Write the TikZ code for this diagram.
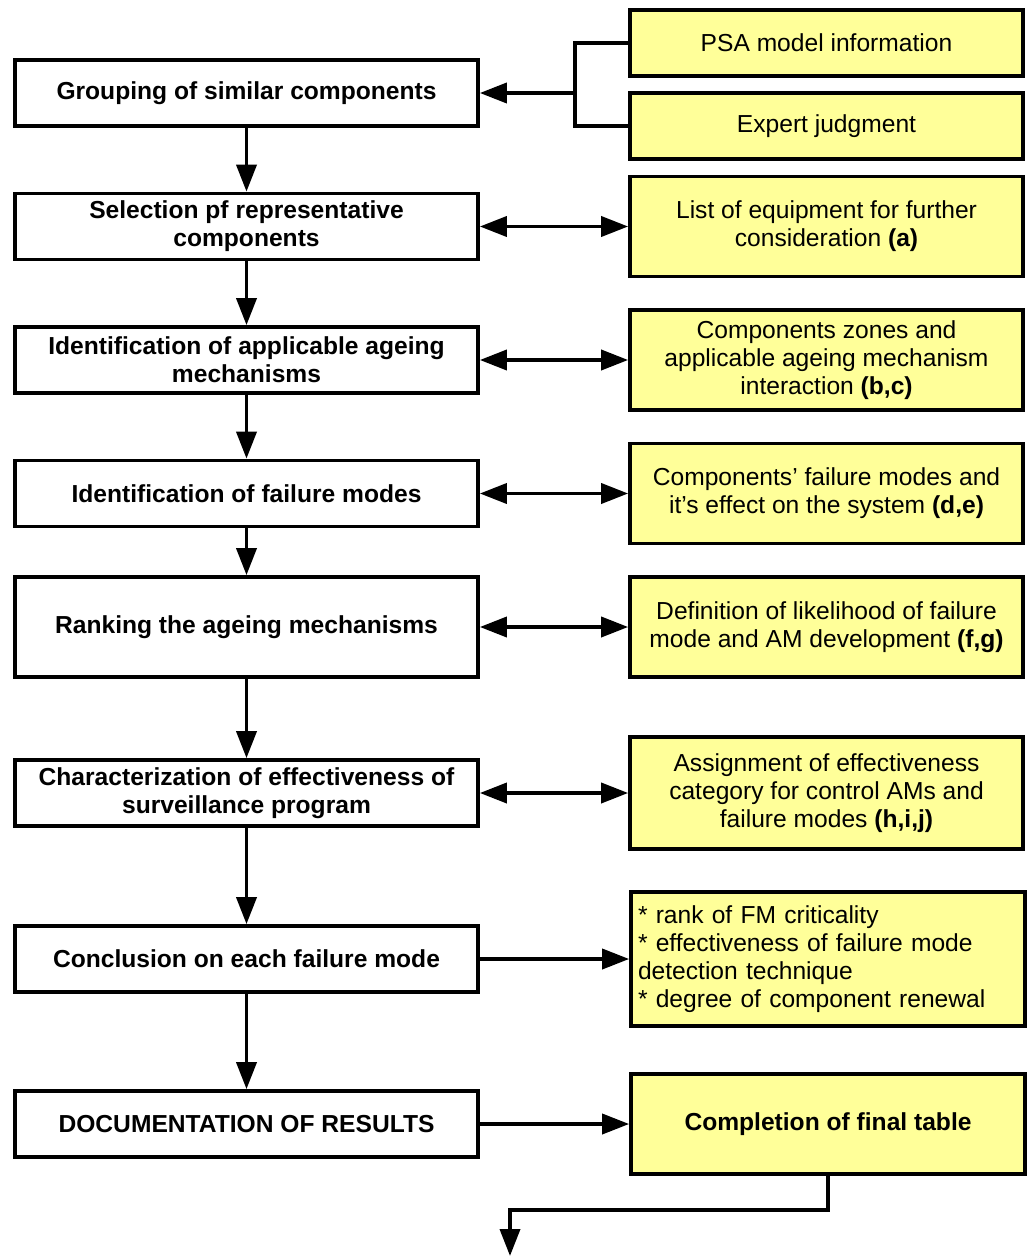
\documentclass[tikz,border=0pt]{standalone}
\usepackage{fontspec}
\setmainfont{Liberation Sans}
\usetikzlibrary{arrows.meta}
\definecolor{noteyellow}{RGB}{255,255,153}
\begin{document}
\begin{tikzpicture}[node distance=2.67cm, auto, >={Triangle[length=0.54cm,width=0.4cm]}, line width=2.1pt]
    \tikzstyle{stage} = [rectangle, draw=black, fill=white, minimum width=9.26cm, minimum height=1.32cm, text centered, align=center, font=\fontsize{14}{16}\selectfont\bfseries]
    \tikzstyle{note} = [rectangle, draw=black, fill=noteyellow, minimum width=7.86cm, minimum height=2cm, text centered, align=center, font=\fontsize{14}{16}\selectfont]
    \useasboundingbox (0,0) rectangle (20.68,-25.12);

    % Analysis steps
    \node [stage] at (4.93,-1.86) (grouping) {Grouping of similar components};
    \node [stage, below of=grouping] (selection) {Selection pf representative\\components};
    \node [stage, below of=selection] (mechanisms) {Identification of applicable ageing\\mechanisms};
    \node [stage, below of=mechanisms] (failmodes) {Identification of failure modes};
    \node [stage, below of=failmodes, minimum height=2cm] (ranking) {Ranking the ageing mechanisms};
    \node [stage, below of=ranking, yshift=-0.65cm] (surveillance) {Characterization of effectiveness of\\surveillance program};
    \node [stage, below of=surveillance, yshift=-0.65cm] (conclusion) {Conclusion on each failure mode};
    \node [stage, below of=conclusion, yshift=-0.63cm] (documentation) {DOCUMENTATION OF RESULTS};

    % Inputs and outcomes
    \node [note, right of=grouping, xshift=8.93cm, yshift=1.0cm, minimum height=1.32cm] (psa) {PSA model information};
    \node [note, right of=grouping, xshift=8.93cm, yshift=-0.66cm, minimum height=1.32cm] (expert) {Expert judgment};
    \node [note, right of=selection, xshift=8.93cm] (equipment) {List of equipment for further\\consideration \textbf{(a)}};
    \node [note, right of=mechanisms, xshift=8.93cm] (zones) {Components zones and\\applicable ageing mechanism\\interaction \textbf{(b,c)}};
    \node [note, right of=failmodes, xshift=8.93cm] (effects) {Components’ failure modes and\\it’s effect on the system \textbf{(d,e)}};
    \node [note, right of=ranking, xshift=8.93cm] (likelihood) {Definition of likelihood of failure\\mode and AM development \textbf{(f,g)}};
    \node [note, right of=surveillance, xshift=8.93cm, minimum height=2.24cm] (category) {Assignment of effectiveness\\category for control AMs and\\failure modes \textbf{(h,i,j)}};
    \node [note, right of=conclusion, xshift=8.96cm, minimum height=2.68cm, minimum width=7.88cm, text width=7.6cm, align=left] (criteria) {{*} rank of FM criticality\\{*} effectiveness of failure mode\\detection technique\\{*} degree of component renewal};
    \node [note, right of=documentation, xshift=8.96cm, minimum width=7.88cm, font=\fontsize{14}{16}\selectfont\bfseries] (final) {Completion of final table};

    \coordinate (join) at (11.5,-1.86);
    \coordinate (out) at (10.2,-25.12);

    % Main flow
    \draw [->] (grouping) -- (selection);
    \draw [->] (selection) -- (mechanisms);
    \draw [->] (mechanisms) -- (failmodes);
    \draw [->] (failmodes) -- (ranking);
    \draw [->] (ranking) -- (surveillance);
    \draw [->] (surveillance) -- (conclusion);
    \draw [->] (conclusion) -- (documentation);

    % Side links
    \draw (psa.west) -| (join);
    \draw (expert.west) -| (join);
    \draw [->] (join) -- (grouping.east);
    \draw [<->] (selection) -- (equipment);
    \draw [<->] (mechanisms) -- (zones);
    \draw [<->] (failmodes) -- (effects);
    \draw [<->] (ranking) -- (likelihood);
    \draw [<->] (surveillance) -- (category);
    \draw [->] (conclusion) -- (criteria);
    \draw [->] (documentation) -- (final);
    \draw [->] (final.south) -- ++(0,-0.68) -| (out);
\end{tikzpicture}
\end{document}
